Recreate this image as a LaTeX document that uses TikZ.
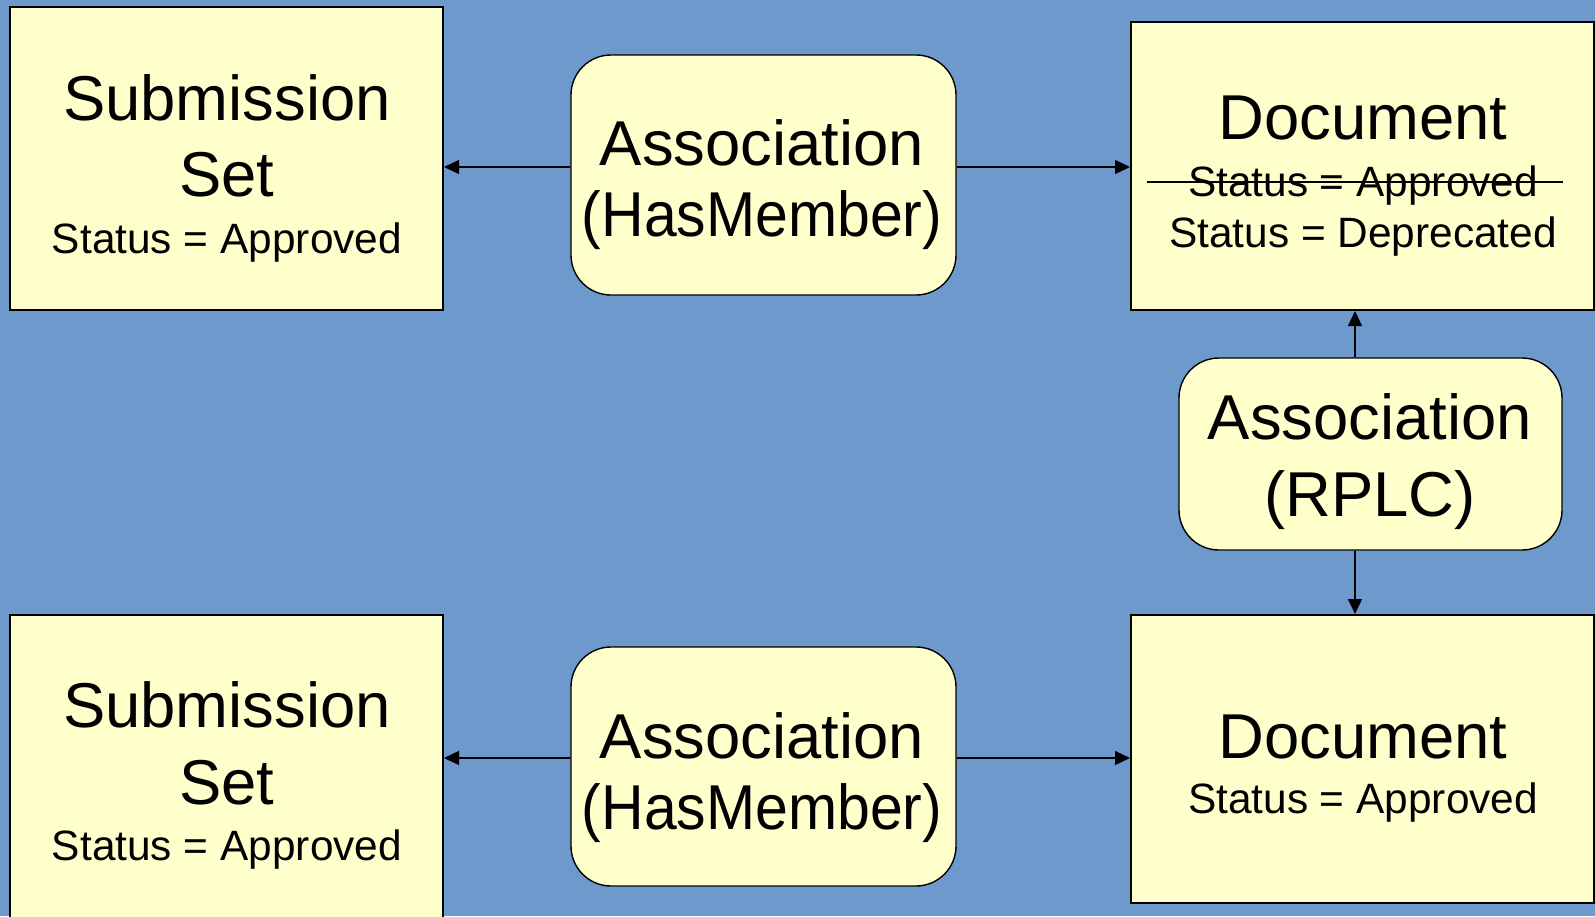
\documentclass[tikz,border=0pt]{standalone}
\usepackage{fontspec}
\setmainfont{Liberation Sans}
\usepackage{tikz}
\usetikzlibrary{arrows.meta}
\definecolor{slideblue}{RGB}{109, 153, 204}
\definecolor{boxyellow}{RGB}{255, 255, 204}

\tikzset{
  objbox/.style={draw, line width=1pt, fill=boxyellow, inner sep=0pt},
  assocbox/.style={draw, line width=0.7pt, fill=boxyellow, rounded corners=20pt, inner sep=0pt},
  bigtxt/.style={anchor=base, inner sep=0pt, font=\fontsize{31.7}{38}\selectfont},
  smalltxt/.style={anchor=base, inner sep=0pt, font=\fontsize{21.2}{26}\selectfont},
  link/.style={-{Triangle[length=7.5pt,width=7pt]}, line width=0.65pt}
}
\newcommand{\narrow}[1]{\scalebox{0.93}[1]{#1}}

\begin{document}
\begin{tikzpicture}[x=0.5pt, y=-0.5pt]
\fill[slideblue] (0,0) rectangle (1595,916);
\useasboundingbox (0,0) rectangle (1595,916);

% Boxes
\node[objbox, minimum width=216.5pt, minimum height=151.5pt] (ssTop) at (226.5,158.5) {};
\node[assocbox, minimum width=192.5pt, minimum height=120pt] (hmTop) at (763.5,175) {};
\node[objbox, minimum width=231.5pt, minimum height=144pt] (docOld) at (1362.5,166) {};
\node[assocbox, minimum width=191.5pt, minimum height=96pt] (rplc) at (1370.5,454) {};
\node[objbox, minimum width=231.5pt, minimum height=144pt] (docNew) at (1362.5,759) {};
\node[objbox, minimum width=216.5pt, minimum height=160pt] (ssBot) at (226.5,775) {};
\node[assocbox, minimum width=192.5pt, minimum height=119.5pt] (hmBot) at (763.5,766.5) {};

% Top submission set
\node[bigtxt] (ssTopA) at (227,120) {Submission};
\node[bigtxt] (ssTopB) at (227,196) {Set};
\node[smalltxt] (ssTopC) at (227,253) {Status = Approved};

% Top association
\node[bigtxt] (hmTopA) at (762,165) {Association};
\node[bigtxt] (hmTopB) at (762,236) {\narrow{(HasMember)}};

% Replaced document
\node[bigtxt] (docOldA) at (1363,139) {Document};
\node[smalltxt] (docOldB) at (1363,196) {Status = Approved};
\node[smalltxt] (docOldC) at (1363,247) {Status = Deprecated};
\draw[line width=0.6pt] ([xshift=-20.5pt,yshift=7pt]docOldB.base west) -- ([xshift=12.5pt,yshift=7pt]docOldB.base east);

% RPLC association
\node[bigtxt] (rplcA) at (1370,439) {Association};
\node[bigtxt] (rplcB) at (1370,516) {(RPLC)};

% New document
\node[bigtxt] (docNewA) at (1363,758) {Document};
\node[smalltxt] (docNewB) at (1363,813) {Status = Approved};

% Bottom submission set
\node[bigtxt] (ssBotA) at (227,727) {Submission};
\node[bigtxt] (ssBotB) at (227,804) {Set};
\node[smalltxt] (ssBotC) at (227,860) {Status = Approved};

% Bottom association
\node[bigtxt] (hmBotA) at (762,758) {Association};
\node[bigtxt] (hmBotB) at (762,829) {\narrow{(HasMember)}};

% Arrows
\draw[link] ([yshift=4pt]hmTop.west) -- ([yshift=4pt]hmTop.west -| ssTop.east);
\draw[link] ([yshift=4pt]hmTop.east) -- ([yshift=4pt]hmTop.east -| docOld.west);
\draw[link] ([xshift=-3.75pt]docOld.south |- rplc.north) -- ([xshift=-3.75pt]docOld.south);
\draw[link] ([xshift=-3.75pt]docOld.south |- rplc.south) -- ([xshift=-3.75pt]docOld.south |- docNew.north);
\draw[link] ([yshift=4.25pt]hmBot.west) -- ([yshift=4.25pt]hmBot.west -| ssBot.east);
\draw[link] ([yshift=4.25pt]hmBot.east) -- ([yshift=4.25pt]hmBot.east -| docNew.west);
\end{tikzpicture}
\end{document}
